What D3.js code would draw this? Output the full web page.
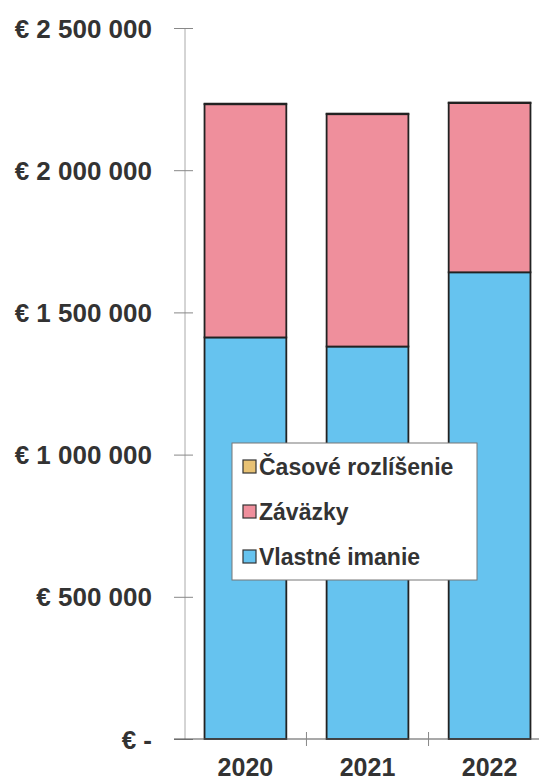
<!DOCTYPE html>
<html>
<head>
<meta charset="utf-8">
<script src="https://cdn.jsdelivr.net/npm/d3@7"></script>
<style>
  html, body { margin: 0; padding: 0; background: #fff; }
  svg { display: block; }
  text { font-family: "Liberation Sans", Arial, sans-serif; font-weight: bold; fill: #333; }
</style>
</head>
<body>
<svg id="chart" width="539" height="781"></svg>
<script>
var years = ["2020", "2021", "2022"];
var seriesNames = ["Vlastné imanie", "Záväzky", "Časové rozlíšenie"];
var vlastneImanie = [1412000, 1380000, 1641000];
var zavazky = [820000, 817000, 595000];
var casoveRozlisenie = [2000, 2000, 2000];
var yTicks = [0, 500000, 1000000, 1500000, 2000000, 2500000];
var colors = ["#66c3ef", "#ef8f9c", "#e8c274"];
var legendOrder = ["Časové rozlíšenie", "Záväzky", "Vlastné imanie"];

var svg = d3.select("#chart");
var plotLeft = 185, plotRight = 539, plotTop = 28, plotBottom = 739;

var x = d3.scaleBand().domain(years).range([plotLeft, plotLeft + 365]).paddingInner(0.33).paddingOuter(0.16);
var y = d3.scaleLinear().domain([0, 2500000]).range([plotBottom, plotTop]);

// Build rows for stacking
var rows = years.map(function (yr, i) {
  return { year: yr, "Vlastné imanie": vlastneImanie[i], "Záväzky": zavazky[i], "Časové rozlíšenie": casoveRozlisenie[i] };
});
var stacked = d3.stack().keys(seriesNames)(rows);
var color = d3.scaleOrdinal().domain(seriesNames).range(colors);

// y axis
var fmt = function (d) {
  if (d === 0) return "€ -";
  return "€ " + d3.format(",")(d).replace(/,/g, " ");
};
var yAxis = svg.append("g").attr("transform", "translate(" + plotLeft + ",0)")
  .call(d3.axisLeft(y).tickValues(yTicks).tickSize(9).tickFormat(fmt).tickPadding(24));
yAxis.select(".domain").attr("d", "M0," + plotTop + "V" + plotBottom).attr("stroke", "#aaa").attr("stroke-width", 1);
yAxis.selectAll(".tick line").attr("stroke", "#888").attr("x2", 8).attr("x1", -11);
yAxis.selectAll(".tick text").style("font-size", "26px").attr("fill", "#333").attr("dy", "0.35em");

// bars
svg.append("g").selectAll("g").data(stacked).enter().append("g")
  .attr("fill", function (d) { return color(d.key); })
  .selectAll("rect").data(function (d) { return d; }).enter().append("rect")
  .attr("x", function (d) { return x(d.data.year); })
  .attr("width", x.bandwidth())
  .attr("y", function (d) { return y(d[1]); })
  .attr("height", function (d) { return y(d[0]) - y(d[1]); })
  .attr("stroke", "#222").attr("stroke-width", 1.8);

// x axis
var xAxis = svg.append("g").attr("transform", "translate(0," + plotBottom + ")")
  .call(d3.axisBottom(x).tickSize(0).tickPadding(19));
xAxis.select(".domain").attr("d", "M" + (plotLeft - 11) + ",0H" + plotRight).attr("stroke", "#555").attr("stroke-width", 1.2);
xAxis.selectAll(".tick text").style("font-size", "25px").attr("fill", "#333");
// separators between categories
var seps = years.slice(1).map(function (yr) { return x(yr) - x.step() * x.paddingInner() / 2; });
xAxis.selectAll(".sep").data(seps).enter().append("line").attr("class", "sep")
  .attr("x1", function (d) { return d; }).attr("x2", function (d) { return d; })
  .attr("y1", -7).attr("y2", 7).attr("stroke", "#888");

// legend
var lg = svg.append("g").attr("transform", "translate(232,443)");
lg.append("rect").attr("width", 245).attr("height", 137).attr("fill", "#fff").attr("stroke", "#777").attr("stroke-width", 1);
var items = lg.selectAll(".item").data(legendOrder).enter().append("g")
  .attr("transform", function (d, i) { return "translate(11," + (24 + i * 45) + ")"; });
items.append("rect").attr("x", 0).attr("y", -7).attr("width", 13).attr("height", 13)
  .attr("fill", function (d) { return color(d); }).attr("stroke", "#333").attr("stroke-width", 1.2);
items.append("text").attr("x", 16).attr("dy", "0.36em").style("font-size", "23px").text(function (d) { return d; });
</script>
</body>
</html>
